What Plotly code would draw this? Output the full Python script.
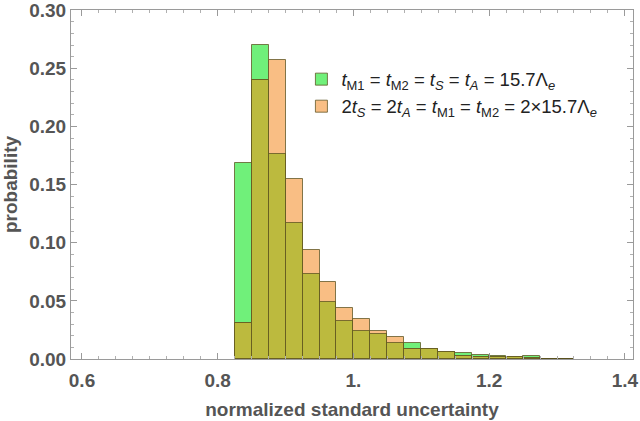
import plotly.graph_objects as go

bin_start = 0.825
bin_width = 0.025
# probability per bin (bins 0.825 .. 1.325)
green_vals = [0.169, 0.270, 0.176, 0.117, 0.073, 0.049, 0.033, 0.0243, 0.0214, 0.0134,
              0.014, 0.0083, 0.006, 0.0049, 0.0037, 0.0023, 0.0014, 0.0023, 0.0004, 0.0003]
orange_vals = [0.031, 0.240, 0.257, 0.155, 0.094, 0.066, 0.044, 0.034, 0.0237, 0.0186,
               0.0089, 0.0083, 0.006, 0.0029, 0.0017, 0.0014, 0.0014, 0.0009, 0.0004, 0.0002]
x_ticks = [0.6, 0.8, 1.0, 1.2, 1.4]
x_labels = ["0.6", "0.8", "1.", "1.2", "1.4"]
y_ticks = [0, 0.05, 0.10, 0.15, 0.20, 0.25, 0.30]
y_labels = ["0.00", "0.05", "0.10", "0.15", "0.20", "0.25", "0.30"]

centers = [bin_start + bin_width * (i + 0.5) for i in range(len(green_vals))]
overlap = [min(g, o) for g, o in zip(green_vals, orange_vals)]

edge = dict(color="rgba(90,80,30,0.75)", width=1)
green_c = "rgb(112,240,122)"
orange_c = "rgb(249,190,132)"
olive_c = "rgb(188,186,62)"

fig = go.Figure()
fig.add_trace(go.Bar(x=centers, y=green_vals, width=bin_width, marker=dict(color=green_c, line=edge),
                     name="<i>t</i><sub>M1</sub> = <i>t</i><sub>M2</sub> = <i>t<sub>S</sub></i> = <i>t<sub>A</sub></i> = 15.7Λ<sub><i>e</i></sub>"))
fig.add_trace(go.Bar(x=centers, y=orange_vals, width=bin_width, marker=dict(color=orange_c, line=edge),
                     name="2<i>t<sub>S</sub></i> = 2<i>t<sub>A</sub></i> = <i>t</i><sub>M1</sub> = <i>t</i><sub>M2</sub> = 2×15.7Λ<sub><i>e</i></sub>"))
fig.add_trace(go.Bar(x=centers, y=overlap, width=bin_width, marker=dict(color=olive_c, line=edge),
                     showlegend=False, hoverinfo="skip"))

lab_font = dict(family="Liberation Sans, Arial", size=19, color="#555555", weight="bold")
axis_common = dict(
    showline=True, linecolor="#9a9a9a", linewidth=1, mirror="ticks",
    ticks="inside", ticklen=6, tickcolor="#9a9a9a", tickwidth=1,
    showgrid=False, zeroline=False, automargin=False, ticklabeloverflow="allow",
    tickfont=lab_font,
)

fig.update_layout(
    width=640, height=421,
    margin=dict(l=71, r=7, t=10, b=62),
    plot_bgcolor="white", paper_bgcolor="white",
    barmode="overlay", bargap=0,
    xaxis=dict(range=[0.5838, 1.412], tickvals=x_ticks, ticktext=x_labels,
               minor=dict(dtick=0.025, tick0=0.6, ticks="inside", ticklen=3, tickcolor="#b0b0b0"),
               ticklabelstandoff=4,
               title=dict(text="normalized standard uncertainty", standoff=12, font=lab_font),
               **axis_common),
    yaxis=dict(range=[0, 0.3002], tickvals=y_ticks, ticktext=y_labels,
               minor=dict(dtick=0.01, ticks="inside", ticklen=3, tickcolor="#b0b0b0"),
               title=dict(text="probability", standoff=12, font=lab_font),
               **axis_common),
    legend=dict(x=0.41, y=0.855, xanchor="left", yanchor="top", bgcolor="rgba(0,0,0,0)",
                font=dict(family="Liberation Sans, Arial", size=18.5, color="#222222"),
                itemwidth=30, tracegroupgap=0),
    showlegend=True,
)

fig.write_html("out.html", config={"displayModeBar": False},
               post_script="document.body.style.margin='0';document.body.style.padding='0';")
